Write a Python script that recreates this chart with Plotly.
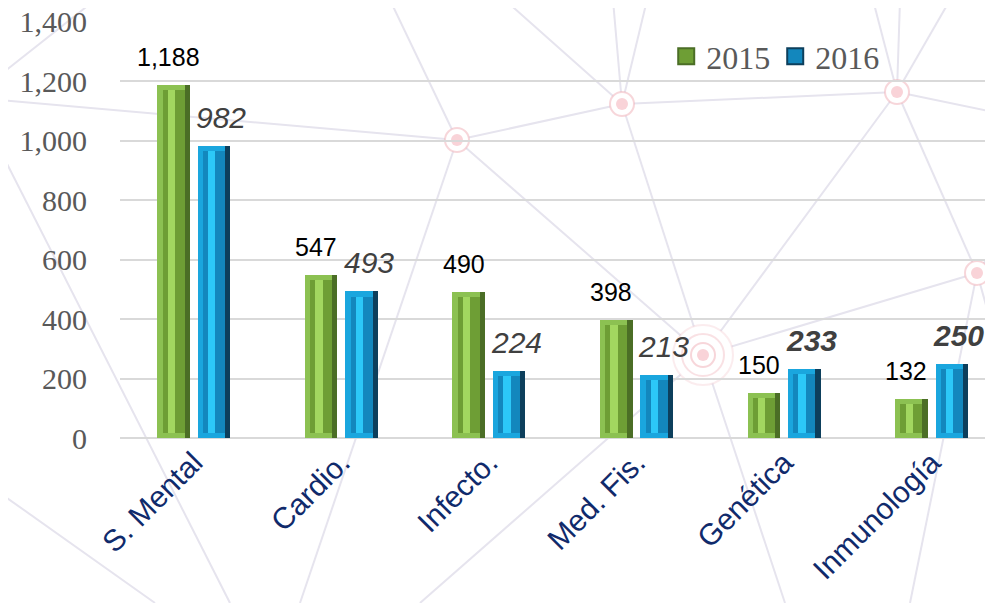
import plotly.graph_objects as go

# Data
categories = ['S. Mental', 'Cardio.', 'Infecto.', 'Med. Fis.', 'Genética', 'Inmunología']
y2015 = [1188, 547, 490, 398, 150, 132]
y2016 = [982, 493, 224, 213, 233, 250]
bold_2016 = [False, False, False, False, True, True]

# page body has an 8px margin, so everything is placed 8px earlier
PAD = 8
# plot-area geometry on screen (pixels), used only to place the decorative background
L, R, T, B = 120, 1001, 21, 438
def px(x):
    return (x - L) / (R - L)
def py(y):
    return (B - y) / (B - T)

# decorative network in the background
nodes = {'a': (457, 140), 'b': (622, 104), 'c': (897, 92), 'd': (977, 273), 'e': (703, 355)}
links = [((0, 100), 'a'), ((0, 75), (95, 0)), ((0, 150), (230, 603)), ((0, 493), (155, 603)),
         ((390, 0), 'a'), ((300, 603), 'a'), ('a', 'e'), ('a', 'b'), ((505, 0), 'b'),
         ((613, 0), 'b'), ((647, 0), 'b'), ('b', 'e'), ('b', 'c'), ((873, 0), 'c'),
         ((900, 0), 'c'), ((950, 0), 'c'), ('c', (993, 112)), ('e', 'd'), ('e', 'c'),
         ('e', (785, 603)), ('e', (420, 603)), ('d', (910, 603)), ('c', 'd'),
         ('d', (993, 250)), ('d', (993, 330))]

shapes = []
for p, q in links:
    p = nodes[p] if isinstance(p, str) else p
    q = nodes[q] if isinstance(q, str) else q
    shapes.append(dict(type='line', xref='paper', yref='paper', layer='below',
                       x0=px(p[0]), y0=py(p[1]), x1=px(q[0]), y1=py(q[1]),
                       line=dict(color='#E6E4EE', width=2)))
for k, (x, y) in nodes.items():
    rings = [(12, 'rgba(240,180,188,0.55)')] if k != 'e' else [(30, 'rgba(240,180,188,0.25)'), (21, 'rgba(240,180,188,0.4)'), (12, 'rgba(240,180,188,0.55)')]
    for r, col in rings:
        shapes.append(dict(type='circle', xref='paper', yref='paper', layer='below',
                           x0=px(x - r), x1=px(x + r), y0=py(y + r), y1=py(y - r),
                           fillcolor='white', line=dict(color=col, width=2)))
    shapes.append(dict(type='circle', xref='paper', yref='paper', layer='below',
                       x0=px(x - 6), x1=px(x + 6), y0=py(y + 6), y1=py(y - 6),
                       fillcolor='#F9D3D8', line=dict(width=0)))

bar_w = 0.22
pair_gap = 0.054
edge = 0.035     # bevel thickness in category units
bev = 17         # bevel thickness in data units

styles = {
    '2015': dict(light='#8CC152', dark='#4B6E26', face='#6E9E35', shine='#A2D760'),
    '2016': dict(light='#1AA6DE', dark='#0D3F5C', face='#1387BD', shine='#2CC8F8'),
}

fig = go.Figure()
x = list(range(len(categories)))
for name, vals, off in [('2015', y2015, -(bar_w + pair_gap / 2)), ('2016', y2016, pair_gap / 2)]:
    s = styles[name]
    inner = [v - 2 * bev for v in vals]
    fig.add_trace(go.Bar(x=x, y=vals, width=bar_w, offset=off, name=name, showlegend=False,
                         marker=dict(color=s['light'], line=dict(width=0))))
    fig.add_trace(go.Bar(x=x, y=vals, width=edge, offset=off + bar_w - edge, showlegend=False,
                         marker=dict(color=s['dark'], line=dict(width=0)), hoverinfo='skip'))
    fig.add_trace(go.Bar(x=x, y=inner, base=[bev] * len(vals), width=bar_w - 2 * edge,
                         offset=off + edge, showlegend=False,
                         marker=dict(color=s['face'], line=dict(width=0)), hoverinfo='skip'))
    fig.add_trace(go.Bar(x=x, y=inner, base=[bev] * len(vals), width=0.05,
                         offset=off + edge + 0.035, showlegend=False,
                         marker=dict(color=s['shine'], line=dict(width=0)), hoverinfo='skip'))
    # legend entry with a larger square symbol
    fig.add_trace(go.Scatter(x=[None], y=[None], mode='markers', name=name,
                             marker=dict(symbol='square', size=20, color=s['face'],
                                         line=dict(color=s['dark'], width=2))))

annotations = []
c15 = -(bar_w / 2 + pair_gap / 2)
c16 = bar_w / 2 + pair_gap / 2
for i, v in enumerate(y2015):
    annotations.append(dict(x=i + c15, y=v, xref='x', yref='y', text=f'{v:,}', showarrow=False,
                            yanchor='bottom', yshift=12, xshift=-5,
                            font=dict(family='Liberation Sans, Arial', size=25, color='black')))
for i, v in enumerate(y2016):
    t = f'<i>{v:,}</i>'
    if bold_2016[i]:
        t = f'<b>{t}</b>'
    annotations.append(dict(x=i + c16, y=v, xref='x', yref='y', text=t, showarrow=False,
                            yanchor='bottom', yshift=10, xshift=7,
                            font=dict(family='Liberation Sans, Arial', size=30, color='#404040')))

fig.update_layout(
    width=993, height=603,
    margin=dict(l=L - PAD, r=0, t=T - PAD, b=603 - (B - T) - (T - PAD)),
    paper_bgcolor='white', plot_bgcolor='rgba(0,0,0,0)',
    barmode='overlay', bargap=0,
    shapes=shapes, annotations=annotations,
    showlegend=True,
    legend=dict(orientation='h', x=0.62, y=0.915, xanchor='left', yanchor='middle',
                bgcolor='rgba(0,0,0,0)', itemsizing='trace',
                font=dict(family='Liberation Serif, serif', size=32, color='#595959'),
                itemwidth=30),
    xaxis=dict(tickmode='array', tickvals=x, ticktext=categories, range=[-0.5, 5.47],
               tickangle=-45, showgrid=False, zeroline=False, showline=False, ticks='',
               automargin=False, ticklabeloverflow='allow',
               tickfont=dict(family='Liberation Sans, Arial', size=30, color='#102A6B')),
    yaxis=dict(range=[0, 1403], tickvals=[0, 200, 400, 600, 800, 1000, 1200, 1400],
               tickformat=',', showgrid=True,
               gridcolor='#D9D9D9', gridwidth=2, zeroline=True, zerolinecolor='#D9D9D9',
               zerolinewidth=2, ticks='', ticklabelstandoff=32, automargin=False,
               ticklabeloverflow='allow',
               tickfont=dict(family='Liberation Serif, serif', size=30, color='#595959')),
)

fig.write_html('out.html')
